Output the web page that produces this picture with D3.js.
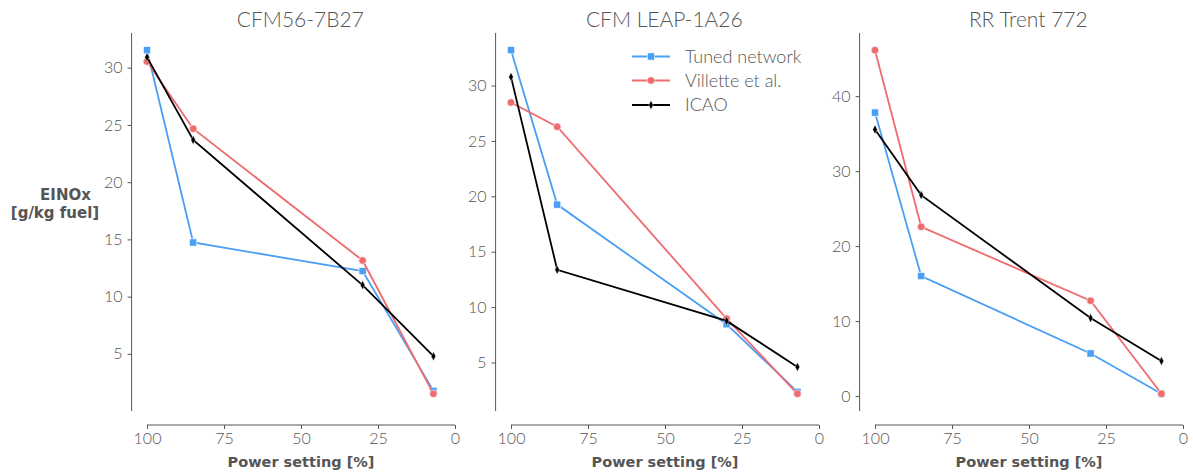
<!DOCTYPE html>
<html>
<head>
<meta charset="utf-8">
<script src="https://cdn.jsdelivr.net/npm/d3@7"></script>
<style>
  html, body { margin: 0; padding: 0; background: #fff; }
  svg { display: block; }
  text { font-family: Lato, "DejaVu Sans", sans-serif; }
</style>
</head>
<body>
<svg id="chart" width="1193" height="475"></svg>
<script>
// ---- data ----
const powerSettings = [100, 85, 30, 7];
const engines = ["CFM56-7B27", "CFM LEAP-1A26", "RR Trent 772"];
const seriesNames = ["Tuned network", "Villette et al.", "ICAO"];

const tunedCFM56 = [31.53, 14.73, 12.23, 1.77];
const villetteCFM56 = [30.54, 24.67, 13.16, 1.51];
const icaoCFM56 = [30.92, 23.69, 11.01, 4.80];

const tunedLEAP = [33.19, 19.25, 8.45, 2.35];
const villetteLEAP = [28.47, 26.28, 8.96, 2.17];
const icaoLEAP = [30.78, 13.37, 8.75, 4.60];

const tunedTrent = [37.81, 16.00, 5.68, 0.30];
const villetteTrent = [46.13, 22.57, 12.71, 0.30];
const icaoTrent = [35.55, 26.80, 10.40, 4.67];

const xTicks = [100, 75, 50, 25, 0];
const yTicksCFM56 = [5, 10, 15, 20, 25, 30];
const yTicksLEAP = [5, 10, 15, 20, 25, 30];
const yTicksTrent = [0, 10, 20, 30, 40];

// ---- layout / style ----
const panelData = [
  { series: [tunedCFM56, villetteCFM56, icaoCFM56], yTicks: yTicksCFM56 },
  { series: [tunedLEAP, villetteLEAP, icaoLEAP], yTicks: yTicksLEAP },
  { series: [tunedTrent, villetteTrent, icaoTrent], yTicks: yTicksTrent }
];
const colors = ["#4a9ff5", "#ee6b6e", "#000000"];
const markers = ["square", "circle", "diamond"];
const textColor = "#555555";
const axisColor = "#555555";
const lightFont = "Lato, 'DejaVu Sans', sans-serif";
const boldFont = "'DejaVu Sans', sans-serif";
const panelX100 = [147, 511, 875];
const panelW = 308;
const yTop = 33, yBottom = 411, xAxisY = 425;

const svg = d3.select("#chart");

function drawMarker(g, type, x, y, color) {
  if (type === "square") {
    g.append("rect").attr("x", x - 3.6).attr("y", y - 3.6).attr("width", 7.2).attr("height", 7.2)
      .attr("fill", color).attr("stroke", "#fff").attr("stroke-width", 0.6);
  } else if (type === "circle") {
    g.append("circle").attr("cx", x).attr("cy", y).attr("r", 3.8)
      .attr("fill", color).attr("stroke", "#fff").attr("stroke-width", 0.6);
  } else {
    g.append("path").attr("d", `M${x},${y - 4.5}L${x + 2.3},${y}L${x},${y + 4.5}L${x - 2.3},${y}Z`)
      .attr("fill", color).attr("stroke", "#fff").attr("stroke-width", 0.4);
  }
}

panelData.forEach((p, i) => {
  const x100 = panelX100[i];
  const x = d3.scaleLinear().domain([100, 0]).range([x100, x100 + panelW]);
  const all = p.series.flat();
  const lo = d3.min(all), hi = d3.max(all), pad = (hi - lo) * 0.05;
  const y = d3.scaleLinear().domain([lo - pad, hi + pad]).range([yBottom, yTop]);
  const axisLeftX = x(105);

  const g = svg.append("g");

  // Y axis
  const yAxis = g.append("g").attr("transform", `translate(${axisLeftX},0)`)
    .call(d3.axisLeft(y).tickValues(p.yTicks).tickSize(4).tickPadding(5).tickFormat(d3.format("d")));
  yAxis.select(".domain").attr("d", `M0,${yTop}V${yBottom}`).attr("stroke", axisColor).attr("stroke-width", 1);
  yAxis.selectAll(".tick line").attr("stroke", axisColor);
  yAxis.selectAll(".tick text").attr("fill", textColor).style("font-size", "16px")
    .style("font-family", lightFont).style("font-weight", 300);

  // X axis
  const xAxis = g.append("g").attr("transform", `translate(0,${xAxisY})`)
    .call(d3.axisBottom(x).tickValues(xTicks).tickSize(4).tickPadding(4).tickFormat(d3.format("d")));
  xAxis.select(".domain").attr("d", `M${x(100)},0H${x(0)}`).attr("stroke", axisColor).attr("stroke-width", 1);
  xAxis.selectAll(".tick line").attr("stroke", axisColor);
  xAxis.selectAll(".tick text").attr("fill", textColor).style("font-size", "16px")
    .style("font-family", lightFont).style("font-weight", 300);

  // X label
  g.append("text").attr("x", (x(100) + x(0)) / 2).attr("y", 467)
    .attr("text-anchor", "middle").attr("fill", textColor)
    .style("font-family", boldFont).style("font-size", "14.5px").style("font-weight", "bold")
    .text("Power setting [%]");

  // Title
  g.append("text").attr("x", (axisLeftX + x(0)) / 2 + 7).attr("y", 27)
    .attr("text-anchor", "middle").attr("fill", textColor)
    .style("font-family", lightFont).style("font-weight", 300)
    .style("font-size", "21px").text(engines[i]);

  // Series
  const line = d3.line().x((d, j) => x(powerSettings[j])).y(d => y(d));
  p.series.forEach((vals, s) => {
    g.append("path").datum(vals).attr("d", line)
      .attr("fill", "none").attr("stroke", colors[s]).attr("stroke-width", 1.8);
    vals.forEach((v, j) => drawMarker(g, markers[s], x(powerSettings[j]), y(v), colors[s]));
  });

  if (i === 0) {
    g.append("text").attr("fill", textColor).attr("x", 65.5).attr("y", 200)
      .style("font-family", boldFont).style("font-size", "15px").style("font-weight", "bold")
      .attr("text-anchor", "middle").text("EINOx");
    g.append("text").attr("fill", textColor).attr("x", 55).attr("y", 217.5)
      .style("font-family", boldFont).style("font-size", "15px").style("font-weight", "bold")
      .attr("text-anchor", "middle").text("[g/kg fuel]");
  }

  if (i === 1) {
    const leg = g.append("g");
    seriesNames.forEach((name, s) => {
      const ly = [56.5, 80.5, 105][s];
      leg.append("line").attr("x1", 632).attr("x2", 670).attr("y1", ly).attr("y2", ly)
        .attr("stroke", colors[s]).attr("stroke-width", 1.8);
      drawMarker(leg, markers[s], 651, ly, colors[s]);
      leg.append("text").attr("x", 685).attr("y", ly + 6).attr("fill", textColor)
        .style("font-family", lightFont).style("font-weight", 300)
        .style("font-size", "18px").text(name);
    });
  }
});
</script>
</body>
</html>
